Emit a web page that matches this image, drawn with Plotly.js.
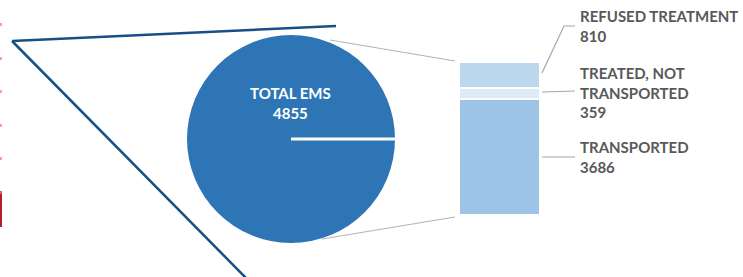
<!DOCTYPE html>
<html><head><meta charset="utf-8">
<script src="https://cdn.plot.ly/plotly-3.0.1.min.js"></script>
<style>html,body{margin:0;padding:0;background:#fff}#chart{width:743px;height:277px}</style>
</head><body><div id="chart"></div>
<script>
// ---- data ----
const totalLabel = 'TOTAL EMS';
const totalValue = [4855];
const breakdownLabels = ['TRANSPORTED', 'TREATED, NOT<br>TRANSPORTED', 'REFUSED TREATMENT'];
const breakdownValues = [3686, 359, 810];
const breakdownColors = ['#9DC3E6', '#DEEBF7', '#BDD7EE'];

// ---- layout helpers (pixel -> paper) ----
const W = 743, H = 277;
const px = x => x / W;
const py = y => 1 - y / H;
const FONT = 'Lato, "Open Sans", sans-serif';

const traces = [{
  type: 'pie',
  values: totalValue,
  labels: [totalLabel],
  marker: {colors: ['#2E75B6'], line: {width: 0}},
  textinfo: 'none',
  hoverinfo: 'label+value',
  sort: false,
  domain: {x: [px(187), px(395)], y: [py(243), py(35)]}
}];
breakdownLabels.forEach((lab, i) => {
  traces.push({
    type: 'bar',
    x: ['EMS'],
    y: [breakdownValues[i]],
    name: lab,
    width: 1,
    marker: {color: breakdownColors[i], line: {color: '#ffffff', width: 2}},
    xaxis: 'x', yaxis: 'y',
    hoverinfo: 'name+y'
  });
});

const total = totalValue[0];
const labelPos = [
  {y: 157}, {y: 92}, {y: 26}
];
const annotations = [{
  xref: 'paper', yref: 'paper', x: px(290), y: py(103),
  text: '<b>' + totalLabel + '<br>' + totalValue[0] + '</b>',
  showarrow: false, align: 'center', xanchor: 'center', yanchor: 'middle',
  font: {family: FONT, size: 15, color: '#ffffff'}
}];
breakdownLabels.forEach((lab, i) => {
  annotations.push({
    xref: 'paper', yref: 'paper', x: px(578), y: py(labelPos[i].y),
    text: '<b>' + lab + '<br>' + breakdownValues[i] + '</b>',
    showarrow: false, align: 'left', xanchor: 'left', yanchor: 'middle',
    font: {family: FONT, size: 15, color: '#595959'}
  });
});

const line = (x0, y0, x1, y1, color, width, layer) => ({
  type: 'line', xref: 'paper', yref: 'paper',
  x0: px(x0), y0: py(y0), x1: px(x1), y1: py(y1),
  line: {color, width}, layer: layer || 'above'
});
const rect = (x0, y0, x1, y1, color) => ({
  type: 'rect', xref: 'paper', yref: 'paper',
  x0: px(x0), y0: py(y0), x1: px(x1), y1: py(y1),
  fillcolor: color, line: {width: 0}, layer: 'above'
});

const shapes = [
  line(291, 139, 397, 139, '#ffffff', 3),
  line(330, 40, 455, 61, '#b4b4b4', 1.2, 'below'),
  line(322, 239, 455, 217, '#b4b4b4', 1.2, 'below'),
  line(12, 41, 336, 26, '#174f86', 2.5),
  line(12, 41, 247, 279, '#174f86', 2.5),
  {type: 'path', xref: 'paper', yref: 'paper',
   path: `M ${px(542)} ${py(73)} L ${px(564)} ${py(26)} L ${px(575)} ${py(26)}`,
   line: {color: '#a6a6a6', width: 1.2}},
  line(542, 92, 575, 91, '#a6a6a6', 1.2),
  line(542, 157, 575, 157, '#a6a6a6', 1.2),
  rect(0, 23, 2, 26, '#f4a0a0'),
  rect(0, 57, 2, 60, '#f4a0a0'),
  rect(0, 90, 2, 93, '#f4a0a0'),
  rect(0, 124, 2, 127, '#f4a0a0'),
  rect(0, 157, 2, 160, '#f4a0a0'),
  rect(0, 191, 2, 194, '#e05a60'),
  rect(0, 194, 2, 227, '#b01f2c')
];

const layout = {
  width: W, height: H,
  margin: {l: 0, r: 0, t: 0, b: 0, pad: 0},
  paper_bgcolor: '#ffffff', plot_bgcolor: 'rgba(0,0,0,0)',
  showlegend: false, barmode: 'stack', bargap: 0,
  xaxis: {domain: [px(459), px(540)], range: [-0.5, 0.5], visible: false, fixedrange: true},
  yaxis: {domain: [py(215), py(62)], range: [0, total], visible: false, fixedrange: true},
  annotations, shapes
};
Plotly.newPlot('chart', traces, layout, {staticPlot: true, displayModeBar: false});
</script>
</body></html>
